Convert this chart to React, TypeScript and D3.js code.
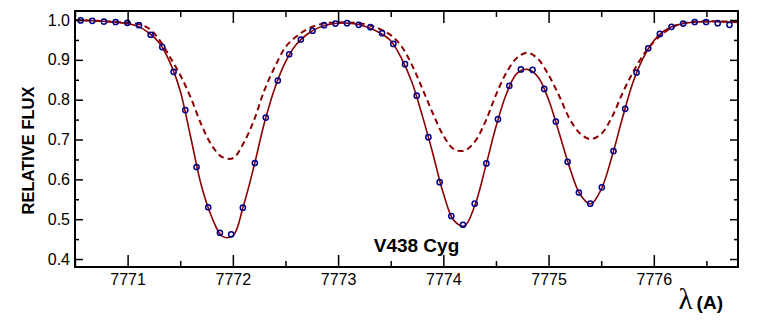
// App.tsx
import React, { useEffect, useRef } from 'react';
import * as d3 from 'd3';

// observed spectrum (open circles)
const obsLambda = [
  7770.554, 7770.664, 7770.775, 7770.886, 7770.997, 7771.108, 7771.219, 7771.329, 7771.437, 7771.548,
  7771.655, 7771.766, 7771.877, 7771.984, 7772.095, 7772.209, 7772.313, 7772.427, 7772.535, 7772.646,
  7772.757, 7772.867, 7772.975, 7773.085, 7773.196, 7773.307, 7773.418, 7773.525, 7773.636, 7773.747,
  7773.858, 7773.965, 7774.076, 7774.187, 7774.298, 7774.409, 7774.519, 7774.627, 7774.737, 7774.848,
  7774.959, 7775.069, 7775.181, 7775.288, 7775.396, 7775.506, 7775.617, 7775.728, 7775.836, 7775.947,
  7776.057, 7776.168, 7776.279, 7776.389, 7776.497, 7776.607, 7776.719,
];
const obsFlux = [
  0.999, 0.998, 0.996, 0.995, 0.993, 0.987, 0.963, 0.932, 0.87, 0.774,
  0.631, 0.53, 0.466, 0.462, 0.529, 0.641, 0.755, 0.848, 0.914, 0.951,
  0.973, 0.987, 0.991, 0.992, 0.988, 0.982, 0.967, 0.94, 0.889, 0.81,
  0.706, 0.593, 0.508, 0.486, 0.539, 0.64, 0.751, 0.835, 0.876, 0.875,
  0.827, 0.745, 0.644, 0.567, 0.539, 0.58, 0.671, 0.777, 0.868, 0.929,
  0.965, 0.983, 0.991, 0.995, 0.995, 0.992, 0.988,
];

// model wavelength grid
const modelLambda = [
  7770.5, 7770.6, 7770.7, 7770.8, 7770.9, 7771.0, 7771.1, 7771.2, 7771.3, 7771.4,
  7771.5, 7771.6, 7771.7, 7771.8, 7771.9, 7772.0, 7772.1, 7772.2, 7772.3, 7772.4,
  7772.5, 7772.6, 7772.7, 7772.8, 7772.9, 7773.0, 7773.1, 7773.2, 7773.3, 7773.4,
  7773.5, 7773.6, 7773.7, 7773.8, 7773.9, 7774.0, 7774.1, 7774.2, 7774.3, 7774.4,
  7774.5, 7774.6, 7774.7, 7774.8, 7774.9, 7775.0, 7775.1, 7775.2, 7775.3, 7775.4,
  7775.5, 7775.6, 7775.7, 7775.8, 7775.9, 7776.0, 7776.1, 7776.2, 7776.3, 7776.4,
  7776.5, 7776.6, 7776.7, 7776.8,
];
// fitted profile (solid)
const fitFlux = [
  1.0, 0.999, 0.998, 0.996, 0.994, 0.991, 0.984, 0.968, 0.943, 0.895,
  0.822, 0.705, 0.585, 0.505, 0.457, 0.458, 0.533, 0.632, 0.742, 0.83,
  0.895, 0.938, 0.963, 0.979, 0.988, 0.992, 0.992, 0.988, 0.98, 0.967,
  0.948, 0.905, 0.845, 0.76, 0.665, 0.565, 0.497, 0.483, 0.535, 0.63,
  0.732, 0.815, 0.866, 0.876, 0.857, 0.8, 0.717, 0.63, 0.562, 0.538,
  0.575, 0.655, 0.752, 0.842, 0.905, 0.948, 0.973, 0.986, 0.992, 0.995,
  0.996, 0.996, 0.995, 0.994,
];
// second profile (dashed)
const dashFlux = [
  1.0, 0.999, 0.998, 0.997, 0.995, 0.993, 0.99, 0.979, 0.951, 0.908,
  0.862, 0.805, 0.738, 0.685, 0.656, 0.653, 0.69, 0.748, 0.824, 0.883,
  0.932, 0.958, 0.976, 0.987, 0.993, 0.994, 0.994, 0.992, 0.987, 0.977,
  0.962, 0.935, 0.888, 0.828, 0.766, 0.71, 0.676, 0.672, 0.695, 0.745,
  0.812, 0.868, 0.905, 0.918, 0.902, 0.862, 0.81, 0.752, 0.715, 0.701,
  0.714, 0.755, 0.815, 0.868, 0.912, 0.945, 0.969, 0.985, 0.993, 0.996,
  0.997, 0.997, 0.996, 0.995,
];

const xMajor = [7771, 7772, 7773, 7774, 7775, 7776];
const xMinor = [7770.5, 7771.5, 7772.5, 7773.5, 7774.5, 7775.5, 7776.5];
const yMajor = [0.4, 0.5, 0.6, 0.7, 0.8, 0.9, 1.0];
const yMinor = [0.45, 0.55, 0.65, 0.75, 0.85, 0.95];

const App = () => {
  const ref = useRef<SVGSVGElement>(null);

  useEffect(() => {
    const svg = d3.select(ref.current);
    svg.selectAll('*').remove();

    const left = 75, right = 738, top = 11, bottom = 267;
    const x = d3.scaleLinear().domain([7770.5, 7776.8]).range([left, right]);
    const y = d3.scaleLinear().domain([0.38, 1.0226]).range([bottom, top]);
    const red = '#8b0000';
    const font = 'Liberation Sans, Arial, Helvetica, sans-serif';

    const plot = svg.append('g');
    plot
      .append('clipPath')
      .attr('id', 'clip')
      .append('rect')
      .attr('x', left)
      .attr('y', top)
      .attr('width', right - left)
      .attr('height', bottom - top);

    const curves = plot.append('g').attr('clip-path', 'url(#clip)');
    const line = (vals: number[]) =>
      d3
        .line<number>()
        .x((d, i) => x(modelLambda[i]))
        .y((d) => y(d))
        .curve(d3.curveCatmullRom)(vals);

    curves
      .append('path')
      .attr('d', line(dashFlux))
      .attr('fill', 'none')
      .attr('stroke', red)
      .attr('stroke-width', 2)
      .attr('stroke-dasharray', '6 4');

    curves
      .append('path')
      .attr('d', line(fitFlux))
      .attr('fill', 'none')
      .attr('stroke', red)
      .attr('stroke-width', 1.6);

    curves
      .selectAll('circle')
      .data(obsFlux)
      .enter()
      .append('circle')
      .attr('cx', (d, i) => x(obsLambda[i]))
      .attr('cy', (d) => y(d))
      .attr('r', 2.6)
      .attr('fill', 'none')
      .attr('stroke', '#00008b')
      .attr('stroke-width', 1.5);

    // axes, ROOT-like inward ticks
    const style = (g: any) => {
      g.select('.domain').remove();
      g.selectAll('line').attr('stroke', '#000').attr('stroke-width', 1.5);
      g.selectAll('text').attr('font-family', font).attr('font-size', 16).attr('fill', '#000');
    };

    svg
      .append('g')
      .attr('transform', `translate(0,${bottom})`)
      .call(d3.axisBottom(x).tickValues(xMajor).tickFormat(d3.format('d')).tickSize(-12).tickPadding(7))
      .call(style);
    svg
      .append('g')
      .attr('transform', `translate(0,${bottom})`)
      .call(d3.axisBottom(x).tickValues(xMinor).tickFormat(() => '').tickSize(-6))
      .call(style);
    svg
      .append('g')
      .attr('transform', `translate(0,${top})`)
      .call(d3.axisTop(x).tickValues(xMajor).tickFormat(() => '').tickSize(-12))
      .call(style);
    svg
      .append('g')
      .attr('transform', `translate(0,${top})`)
      .call(d3.axisTop(x).tickValues(xMinor).tickFormat(() => '').tickSize(-6))
      .call(style);
    svg
      .append('g')
      .attr('transform', `translate(${left},0)`)
      .call(d3.axisLeft(y).tickValues(yMajor).tickFormat(d3.format('.1f')).tickSize(-8).tickPadding(5))
      .call(style);
    svg
      .append('g')
      .attr('transform', `translate(${left},0)`)
      .call(d3.axisLeft(y).tickValues(yMinor).tickFormat(() => '').tickSize(-4))
      .call(style);
    svg
      .append('g')
      .attr('transform', `translate(${right},0)`)
      .call(d3.axisRight(y).tickValues(yMajor).tickFormat(() => '').tickSize(-8))
      .call(style);
    svg
      .append('g')
      .attr('transform', `translate(${right},0)`)
      .call(d3.axisRight(y).tickValues(yMinor).tickFormat(() => '').tickSize(-4))
      .call(style);

    // frame
    svg
      .append('rect')
      .attr('x', left)
      .attr('y', top)
      .attr('width', right - left)
      .attr('height', bottom - top)
      .attr('fill', 'none')
      .attr('stroke', '#000')
      .attr('stroke-width', 2);

    svg
      .append('text')
      .attr('x', 416.5)
      .attr('y', 252)
      .attr('text-anchor', 'middle')
      .attr('font-family', font)
      .attr('font-weight', 'bold')
      .attr('font-size', 19)
      .text('V438 Cyg');

    svg
      .append('text')
      .attr('transform', 'translate(34,150.5) rotate(-90)')
      .attr('text-anchor', 'middle')
      .attr('font-family', font)
      .attr('font-weight', 'bold')
      .attr('font-size', 16.5)
      .text('RELATIVE FLUX');

    const xl = svg.append('text').attr('x', 723).attr('y', 309).attr('text-anchor', 'end');
    xl.append('tspan')
      .attr('font-family', 'Liberation Serif, Times New Roman, serif')
      .attr('font-size', 29)
      .text('λ');
    xl.append('tspan')
      .attr('dx', 4)
      .attr('font-family', font)
      .attr('font-weight', 'bold')
      .attr('font-size', 19)
      .text('(A)');
  }, []);

  return (
    <svg
      ref={ref}
      width={757}
      height={332}
      style={{ position: 'absolute', left: 0, top: 0, background: '#fff' }}
    />
  );
};

export default App;
